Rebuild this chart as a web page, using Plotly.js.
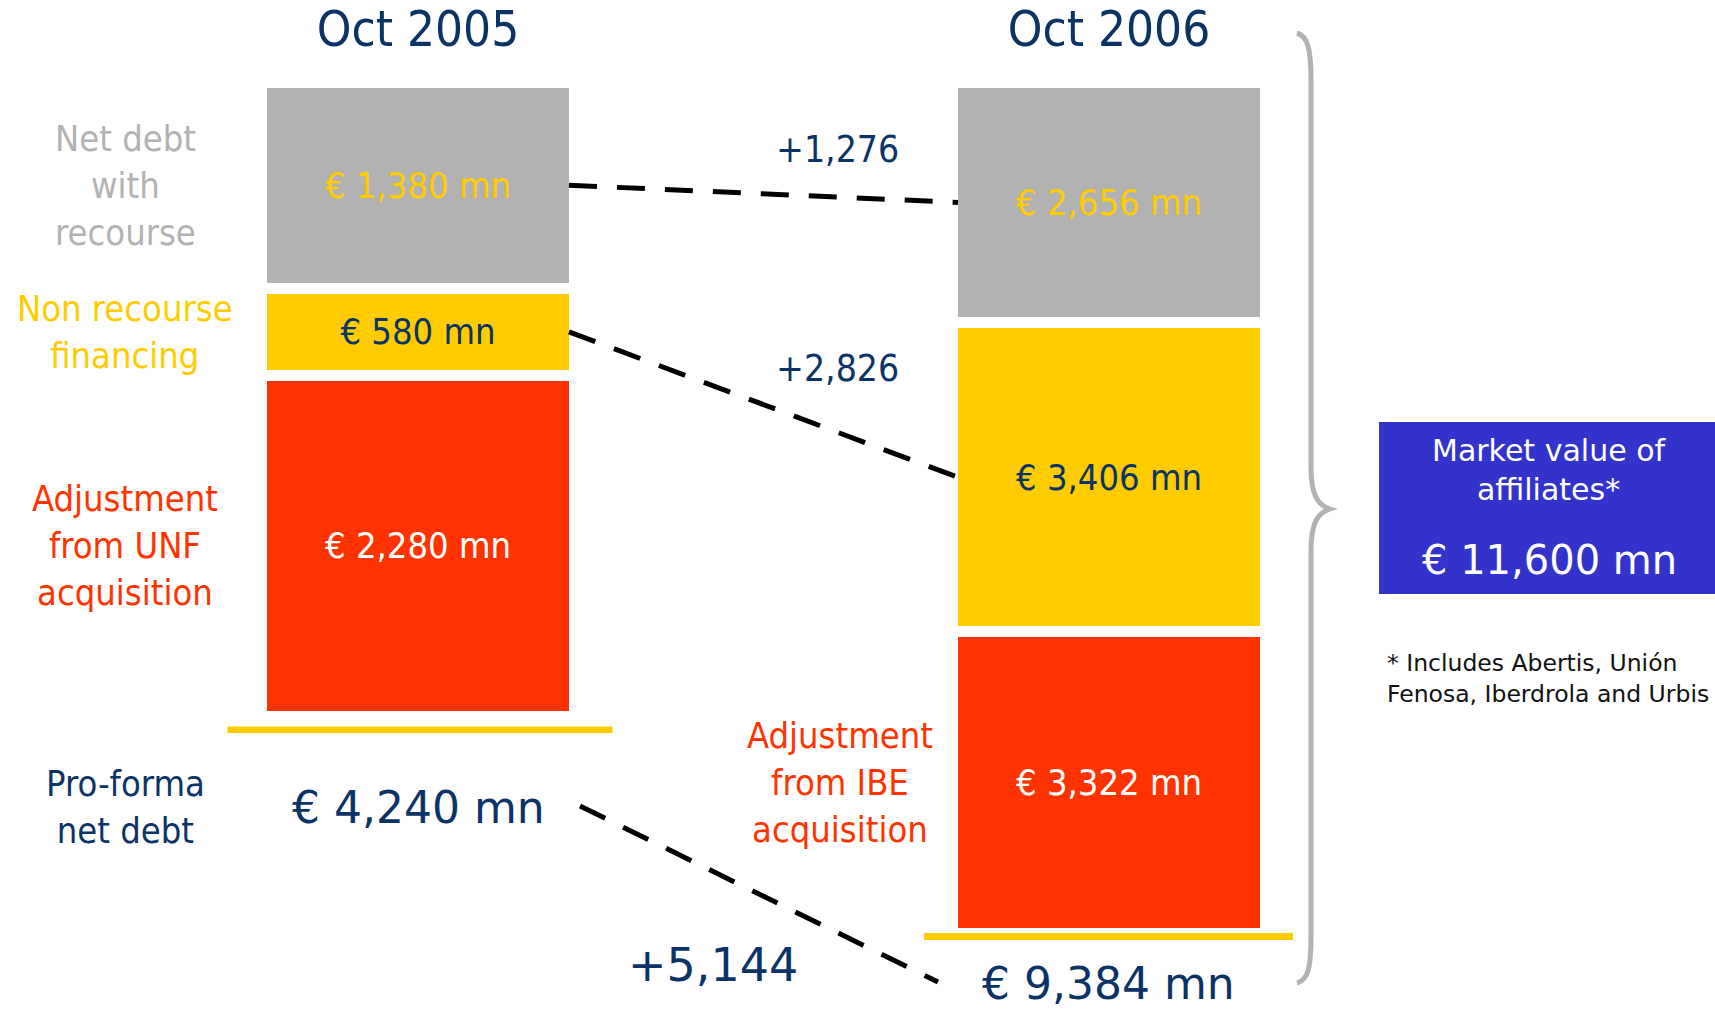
<!DOCTYPE html>
<html>
<head>
<meta charset="utf-8">
<script src="https://cdn.plot.ly/plotly-3.0.1.min.js"></script>
<style>
  html, body { margin: 0; padding: 0; background: #ffffff; }
  #chart { width: 1715px; height: 1010px; }
</style>
</head>
<body>
<div id="chart"></div>
<script>
// Net debt composition by period, € mn
const periods = ['Oct 2005', 'Oct 2006'];
const recourseDebt = [1380, 2656];
const nonRecourseFinancing = [580, 3406];
const acquisitionAdjustment = [2280, 3322];
const acquisitionLabels = ['Adjustment<br>from UNF<br>acquisition', 'Adjustment<br>from IBE<br>acquisition'];
const recourseLabel = 'Net debt<br>with<br>recourse';
const nonRecourseLabel = 'Non recourse<br>financing';
const totalLabel = 'Pro-forma<br>net debt';
const affiliatesTitle = 'Market value of<br>affiliates*';
const affiliatesValue = 11600;
const footnote = '* Includes Abertis, Unión<br>Fenosa, Iberdrola and Urbis';

// page geometry (pixels)
const W = 1715, H = 1010;
const X = p => p / W;
const Y = p => 1 - p / H;
const barTop = 87.5;
const barBottom = [711, 927.5];
const barCenter = [418, 1109];
const barWidth = 302;
const gap = 11;
const pad = 40;   // empty room kept around each column inside its plot area
const unit = barCenter[1] - barCenter[0];

const NAVY = '#0b3366';
const GREY = '#b2b2b2';
const YELLOW = '#ffcc00';
const RED = '#ff3300';
const COND = '"DejaVu Sans Condensed", "DejaVu Sans", sans-serif';
const REG = '"DejaVu Sans", sans-serif';

const fmt = v => v.toLocaleString('en-US');
const totals = periods.map((_, i) => recourseDebt[i] + nonRecourseFinancing[i] + acquisitionAdjustment[i]);

// stacked from the bottom: acquisition adjustment, non recourse, recourse
const segments = [
  { values: acquisitionAdjustment, color: RED, textColor: '#ffffff' },
  { values: nonRecourseFinancing, color: YELLOW, textColor: NAVY },
  { values: recourseDebt, color: GREY, textColor: YELLOW }
];

const traces = [];
periods.forEach((p, i) => {
  segments.forEach(seg => {
    traces.push({
      type: 'bar',
      x: [p],
      y: [seg.values[i]],
      xaxis: 'x',
      yaxis: i === 0 ? 'y' : 'y2',
      width: [(barWidth + gap) / unit],
      marker: { color: seg.color, line: { color: '#ffffff', width: gap } },
      texttemplate: '€ %{y:,} mn',
      textposition: 'inside',
      insidetextanchor: 'middle',
      textangle: 0,
      constraintext: 'none',
      insidetextfont: { family: COND, size: 36, color: seg.textColor },
      hoverinfo: 'skip'
    });
  });
});

// column i: pixel span of the full stack (outer edge of the white outline)
const colBottom = i => barBottom[i] + gap / 2;
const colTop = barTop - gap / 2;
const pxPerUnit = i => (colBottom(i) - colTop) / totals[i];

// each period column gets its own value axis spanning the column height
const yDomain = i => [Y(colBottom(i) + pad), Y(colTop - pad)];
const yRange = i => [-pad / pxPerUnit(i), totals[i] + pad / pxPerUnit(i)];

// vertical pixel position of a segment's middle
function segMid(i, segIndex) {
  let cum = 0;
  for (let k = 0; k < segIndex; k++) cum += segments[k].values[i];
  const v = segments[segIndex].values[i];
  return colBottom(i) - (cum + v / 2) * pxPerUnit(i);
}

const leftEdge = i => barCenter[i] - barWidth / 2;
const rightEdge = i => barCenter[i] + barWidth / 2;

const dash = { color: '#000000', width: 5, dash: '28px,20px' };
const shapes = [];

// connectors between matching segments
[2, 1].forEach(s => {
  shapes.push({ type: 'line', xref: 'paper', yref: 'paper',
    x0: X(rightEdge(0)), y0: Y(segMid(0, s)), x1: X(leftEdge(1)), y1: Y(segMid(1, s)), line: dash });
});
// connector between the totals
shapes.push({ type: 'line', xref: 'paper', yref: 'paper',
  x0: X(580), y0: Y(806), x1: X(938), y1: Y(982), line: dash });

// base rules under each column
shapes.push({ type: 'rect', xref: 'paper', yref: 'paper', x0: X(227.5), x1: X(612.5), y0: Y(733), y1: Y(726.5),
  fillcolor: YELLOW, line: { width: 0 } });
shapes.push({ type: 'rect', xref: 'paper', yref: 'paper', x0: X(924), x1: X(1293), y0: Y(940), y1: Y(933),
  fillcolor: YELLOW, line: { width: 0 } });

// brace grouping the Oct 2006 column
const P = (x, y) => X(x).toFixed(5) + ',' + Y(y).toFixed(5);
shapes.push({
  type: 'path', xref: 'paper', yref: 'paper',
  path: 'M' + P(1297, 33) + ' C' + P(1308, 36) + ' ' + P(1311, 50) + ' ' + P(1311, 80) +
        ' L' + P(1311, 467) + ' C' + P(1311, 496) + ' ' + P(1318, 505) + ' ' + P(1330, 509) +
        ' C' + P(1318, 513) + ' ' + P(1311, 522) + ' ' + P(1311, 551) +
        ' L' + P(1311, 936) + ' C' + P(1311, 968) + ' ' + P(1308, 980) + ' ' + P(1297, 983),
  line: { color: GREY, width: 5 }
});

// affiliates box
shapes.push({ type: 'rect', xref: 'paper', yref: 'paper', x0: X(1379), x1: X(1720), y0: Y(594), y1: Y(422),
  fillcolor: '#3333cc', line: { width: 0 } });

function ann(text, x, y, size, color, family, extra) {
  return Object.assign({
    xref: 'paper', yref: 'paper', x: X(x), y: Y(y), text: text, showarrow: false,
    xanchor: 'center', yanchor: 'middle', align: 'center',
    font: { family: family || COND, size: size, color: color }
  }, extra || {});
}

const annotations = [
  ann(recourseLabel, 125, segMid(0, 2), 36, GREY),
  ann(nonRecourseLabel, 125, segMid(0, 1), 36, YELLOW),
  ann(acquisitionLabels[0], 125, segMid(0, 0), 36, RED),
  ann(acquisitionLabels[1], 840, segMid(1, 0), 36, RED),
  ann(totalLabel, 125, 807, 36, NAVY),
  ann('€ ' + fmt(totals[0]) + ' mn', 418, 807, 44, NAVY, REG),
  ann('€ ' + fmt(totals[1]) + ' mn', 1108, 983, 44, NAVY, REG),
  ann('+' + fmt(recourseDebt[1] - recourseDebt[0]), 837, (segMid(0, 2) + segMid(1, 2)) / 2 - 44, 37, NAVY),
  ann('+' + fmt(nonRecourseFinancing[1] - nonRecourseFinancing[0]), 837, (segMid(0, 1) + segMid(1, 1)) / 2 - 36, 37, NAVY),
  ann('+' + fmt(totals[1] - totals[0]), 713, 965, 46, NAVY, REG),
  ann(affiliatesTitle, 1549, 470, 30, '#ffffff', REG),
  ann('€ ' + fmt(affiliatesValue) + ' mn', 1549, 560, 40, '#ffffff', REG),
  ann(footnote, 1385, 678, 23.5, '#111111', REG, { xanchor: 'left', align: 'left' })
];

const layout = {
  width: W, height: H,
  margin: { l: 0, r: 0, t: 0, b: 0 },
  paper_bgcolor: '#ffffff', plot_bgcolor: 'rgba(0,0,0,0)',
  font: { family: COND },
  showlegend: false,
  hovermode: false,
  barmode: 'stack',
  xaxis: {
    type: 'category', categoryorder: 'array', categoryarray: periods,
    range: [-barCenter[0] / unit, (W - barCenter[0]) / unit],
    domain: [0, 1], anchor: 'y', side: 'top',
    showgrid: false, zeroline: false, showline: false, ticks: '',
    ticklabelstandoff: 25 - pad,
    tickfont: { family: COND, size: 49, color: NAVY },
    fixedrange: true
  },
  yaxis: { domain: yDomain(0), range: yRange(0), visible: false, fixedrange: true },
  yaxis2: { domain: yDomain(1), range: yRange(1), visible: false, fixedrange: true, anchor: 'x' },
  shapes: shapes,
  annotations: annotations
};

Plotly.newPlot('chart', traces, layout, { staticPlot: true, displayModeBar: false });
</script>
</body>
</html>
